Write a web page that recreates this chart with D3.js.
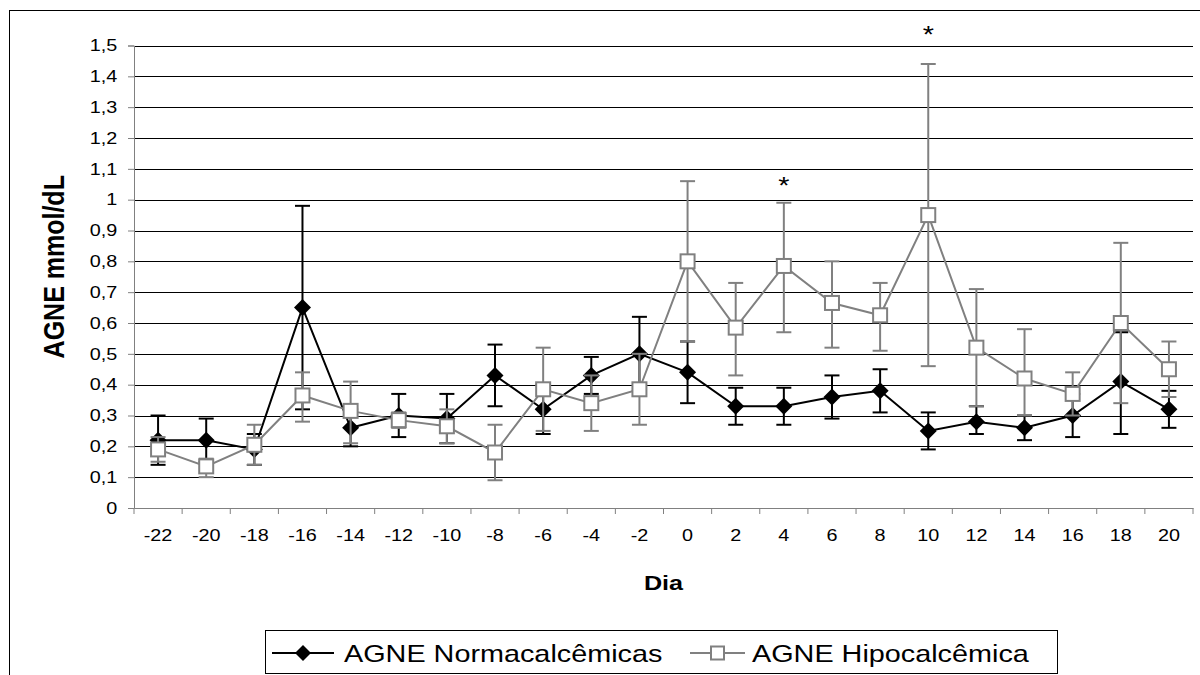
<!DOCTYPE html>
<html>
<head>
<meta charset="utf-8">
<script src="https://cdn.jsdelivr.net/npm/d3@7"></script>
<style>
  body { margin: 0; background: #fff; }
  svg { display: block; font-family: "Liberation Sans", Arial, sans-serif; }
</style>
</head>
<body>
<div id="chart"></div>
<script>
// Data
const days = [-22, -20, -18, -16, -14, -12, -10, -8, -6, -4, -2, 0, 2, 4, 6, 8, 10, 12, 14, 16, 18, 20];

const normMean = [0.22, 0.22, 0.19, 0.65, 0.26, 0.30, 0.29, 0.43, 0.32, 0.43, 0.50, 0.44, 0.33, 0.33, 0.36, 0.38, 0.25, 0.28, 0.26, 0.30, 0.41, 0.32];
const normLow  = [0.14, 0.15, 0.14, 0.32, 0.20, 0.23, 0.21, 0.33, 0.24, 0.37, 0.38, 0.34, 0.27, 0.27, 0.29, 0.31, 0.19, 0.24, 0.22, 0.23, 0.24, 0.26];
const normHigh = [0.30, 0.29, 0.24, 0.98, 0.32, 0.37, 0.37, 0.53, 0.40, 0.49, 0.62, 0.54, 0.39, 0.39, 0.43, 0.45, 0.31, 0.33, 0.30, 0.37, 0.57, 0.38];

const hipoMean = [0.19, 0.135, 0.205, 0.365, 0.315, 0.285, 0.265, 0.18, 0.385, 0.34, 0.385, 0.80, 0.585, 0.785, 0.665, 0.625, 0.95, 0.52, 0.42, 0.37, 0.60, 0.45];
const hipoLow  = [0.15, 0.10, 0.14, 0.28, 0.21, 0.26, 0.21, 0.09, 0.25, 0.25, 0.27, 0.54, 0.43, 0.57, 0.52, 0.51, 0.46, 0.33, 0.30, 0.30, 0.34, 0.36];
const hipoHigh = [0.23, 0.16, 0.27, 0.44, 0.41, 0.31, 0.32, 0.27, 0.52, 0.43, 0.50, 1.06, 0.73, 0.99, 0.80, 0.73, 1.44, 0.71, 0.58, 0.44, 0.86, 0.54];

const yTicks = [0, 0.1, 0.2, 0.3, 0.4, 0.5, 0.6, 0.7, 0.8, 0.9, 1, 1.1, 1.2, 1.3, 1.4, 1.5];

// significance marks
const starDays = [4, 10];
const starValues = [1.06, 1.55];

const seriesNames = ["AGNE Normacalcêmicas", "AGNE Hipocalcêmica"];

const width = 1200, height = 675;
const plot = { left: 134, right: 1193, top: 45.5, bottom: 508 };
const stretch = 1.2; // the original text is a bit wide

const svg = d3.select('#chart').append('svg')
    .attr('width', width)
    .attr('height', height);

// outer frame
svg.append('rect')
    .attr('x', 9.5).attr('y', 10.5)
    .attr('width', 1200).attr('height', 700)
    .attr('fill', 'none').attr('stroke', '#000').attr('stroke-width', 1);

const x = d3.scaleBand().domain(days).range([plot.left, plot.right]);
const y = d3.scaleLinear().domain([0, 1.5]).range([plot.bottom, plot.top]);
const cx = d => x(d) + x.bandwidth() / 2;

// gridlines
svg.append('g')
    .selectAll('line')
    .data(yTicks.filter(t => t > 0))
    .join('line')
    .attr('x1', plot.left).attr('x2', plot.right)
    .attr('y1', d => Math.round(y(d)) + 0.5).attr('y2', d => Math.round(y(d)) + 0.5)
    .attr('stroke', '#000').attr('stroke-width', 1);

const fmt = d => String(+d.toFixed(1)).replace('.', ',');

// y axis
const yAxis = svg.append('g')
    .attr('transform', `translate(${plot.left},0)`)
    .call(d3.axisLeft(y).tickValues(yTicks).tickFormat(fmt).tickSize(6).tickPadding(8));
yAxis.select('.domain').attr('stroke', '#808080');
yAxis.selectAll('.tick line').attr('stroke', '#808080');
yAxis.selectAll('.tick text')
    .attr('font-size', 16.5).attr('fill', '#000')
    .attr('font-family', '"Liberation Sans", Arial, sans-serif')
    .attr('transform', `scale(${stretch},1)`);

// x axis: ticks sit on band boundaries
const xAxis = svg.append('g')
    .attr('transform', `translate(0,${plot.bottom})`)
    .call(d3.axisBottom(x).tickSize(0).tickPadding(21));
xAxis.select('.domain').attr('stroke', '#808080');
xAxis.selectAll('.tick text')
    .attr('font-size', 16.5).attr('fill', '#000')
    .attr('font-family', '"Liberation Sans", Arial, sans-serif')
    .attr('transform', `scale(${stretch},1)`);
xAxis.append('g')
    .selectAll('line')
    .data(days.concat(['end']))
    .join('line')
    .attr('x1', (d, i) => i < days.length ? x(d) : plot.right)
    .attr('x2', (d, i) => i < days.length ? x(d) : plot.right)
    .attr('y1', 0).attr('y2', 6)
    .attr('stroke', '#808080');

// axis titles
svg.append('text')
    .attr('transform', `translate(64,${(plot.top + plot.bottom) / 2 - 10}) scale(${stretch},1) rotate(-90)`)
    .attr('text-anchor', 'middle')
    .attr('font-size', 25).attr('font-weight', 'bold')
    .text('AGNE mmol/dL');

svg.append('text')
    .attr('transform', `translate(${(plot.left + plot.right) / 2},590) scale(${stretch},1)`)
    .attr('text-anchor', 'middle')
    .attr('font-size', 21).attr('font-weight', 'bold')
    .text('Dia');

// draw one series with error bars
function drawSeries(mean, low, high, color, marker) {
    const g = svg.append('g');
    const cap = 7.5;
    const eb = g.append('g')
        .selectAll('g')
        .data(days)
        .join('g')
        .attr('stroke', color).attr('stroke-width', 2);
    eb.append('line')
        .attr('x1', d => cx(d)).attr('x2', d => cx(d))
        .attr('y1', (d, i) => y(low[i])).attr('y2', (d, i) => y(high[i]));
    eb.append('line')
        .attr('x1', d => cx(d) - cap).attr('x2', d => cx(d) + cap)
        .attr('y1', (d, i) => y(high[i])).attr('y2', (d, i) => y(high[i]));
    eb.append('line')
        .attr('x1', d => cx(d) - cap).attr('x2', d => cx(d) + cap)
        .attr('y1', (d, i) => y(low[i])).attr('y2', (d, i) => y(low[i]));

    const line = d3.line()
        .x(d => cx(d))
        .y((d, i) => y(mean[i]));
    g.append('path')
        .datum(days)
        .attr('d', line)
        .attr('fill', 'none')
        .attr('stroke', color).attr('stroke-width', 2);

    if (marker === 'diamond') {
        g.append('g').selectAll('path')
            .data(days)
            .join('path')
            .attr('d', (d, i) => {
                const px = cx(d), py = y(mean[i]), r = 8.5;
                return `M${px},${py - r}L${px + r},${py}L${px},${py + r}L${px - r},${py}Z`;
            })
            .attr('fill', '#000');
    } else {
        g.append('g').selectAll('rect')
            .data(days)
            .join('rect')
            .attr('x', d => cx(d) - 7)
            .attr('y', (d, i) => y(mean[i]) - 7)
            .attr('width', 14).attr('height', 14)
            .attr('fill', '#fff')
            .attr('stroke', color).attr('stroke-width', 2);
    }
}

drawSeries(normMean, normLow, normHigh, '#000', 'diamond');
drawSeries(hipoMean, hipoLow, hipoHigh, '#808080', 'square');

// asterisks
svg.append('g')
    .selectAll('text')
    .data(starDays)
    .join('text')
    .attr('transform', (d, i) => `translate(${cx(d)},${y(starValues[i]) + 13}) scale(${stretch},1)`)
    .attr('text-anchor', 'middle')
    .attr('font-size', 24)
    .text('*');

// legend
const legend = svg.append('g');
legend.append('rect')
    .attr('x', 265.5).attr('y', 630.5)
    .attr('width', 792).attr('height', 43)
    .attr('fill', '#fff').attr('stroke', '#000');

const legendItems = [
    { x0: 272, w: 62, tx: 344, color: '#000', marker: 'diamond' },
    { x0: 690, w: 55, tx: 752, color: '#808080', marker: 'square' }
];
legendItems.forEach((it, k) => {
    const ly = 653;
    legend.append('line')
        .attr('x1', it.x0).attr('x2', it.x0 + it.w)
        .attr('y1', ly).attr('y2', ly)
        .attr('stroke', it.color).attr('stroke-width', 2);
    const mx = it.x0 + it.w / 2;
    if (it.marker === 'diamond') {
        legend.append('path')
            .attr('d', `M${mx},${ly - 8}L${mx + 8},${ly}L${mx},${ly + 8}L${mx - 8},${ly}Z`)
            .attr('fill', '#000');
    } else {
        legend.append('rect')
            .attr('x', mx - 6.5).attr('y', ly - 6.5)
            .attr('width', 13).attr('height', 13)
            .attr('fill', '#fff').attr('stroke', it.color).attr('stroke-width', 2);
    }
    legend.append('text')
        .attr('transform', `translate(${it.tx},${ly + 9}) scale(${stretch},1)`)
        .attr('font-size', 24)
        .text(seriesNames[k]);
});
</script>
</body>
</html>
